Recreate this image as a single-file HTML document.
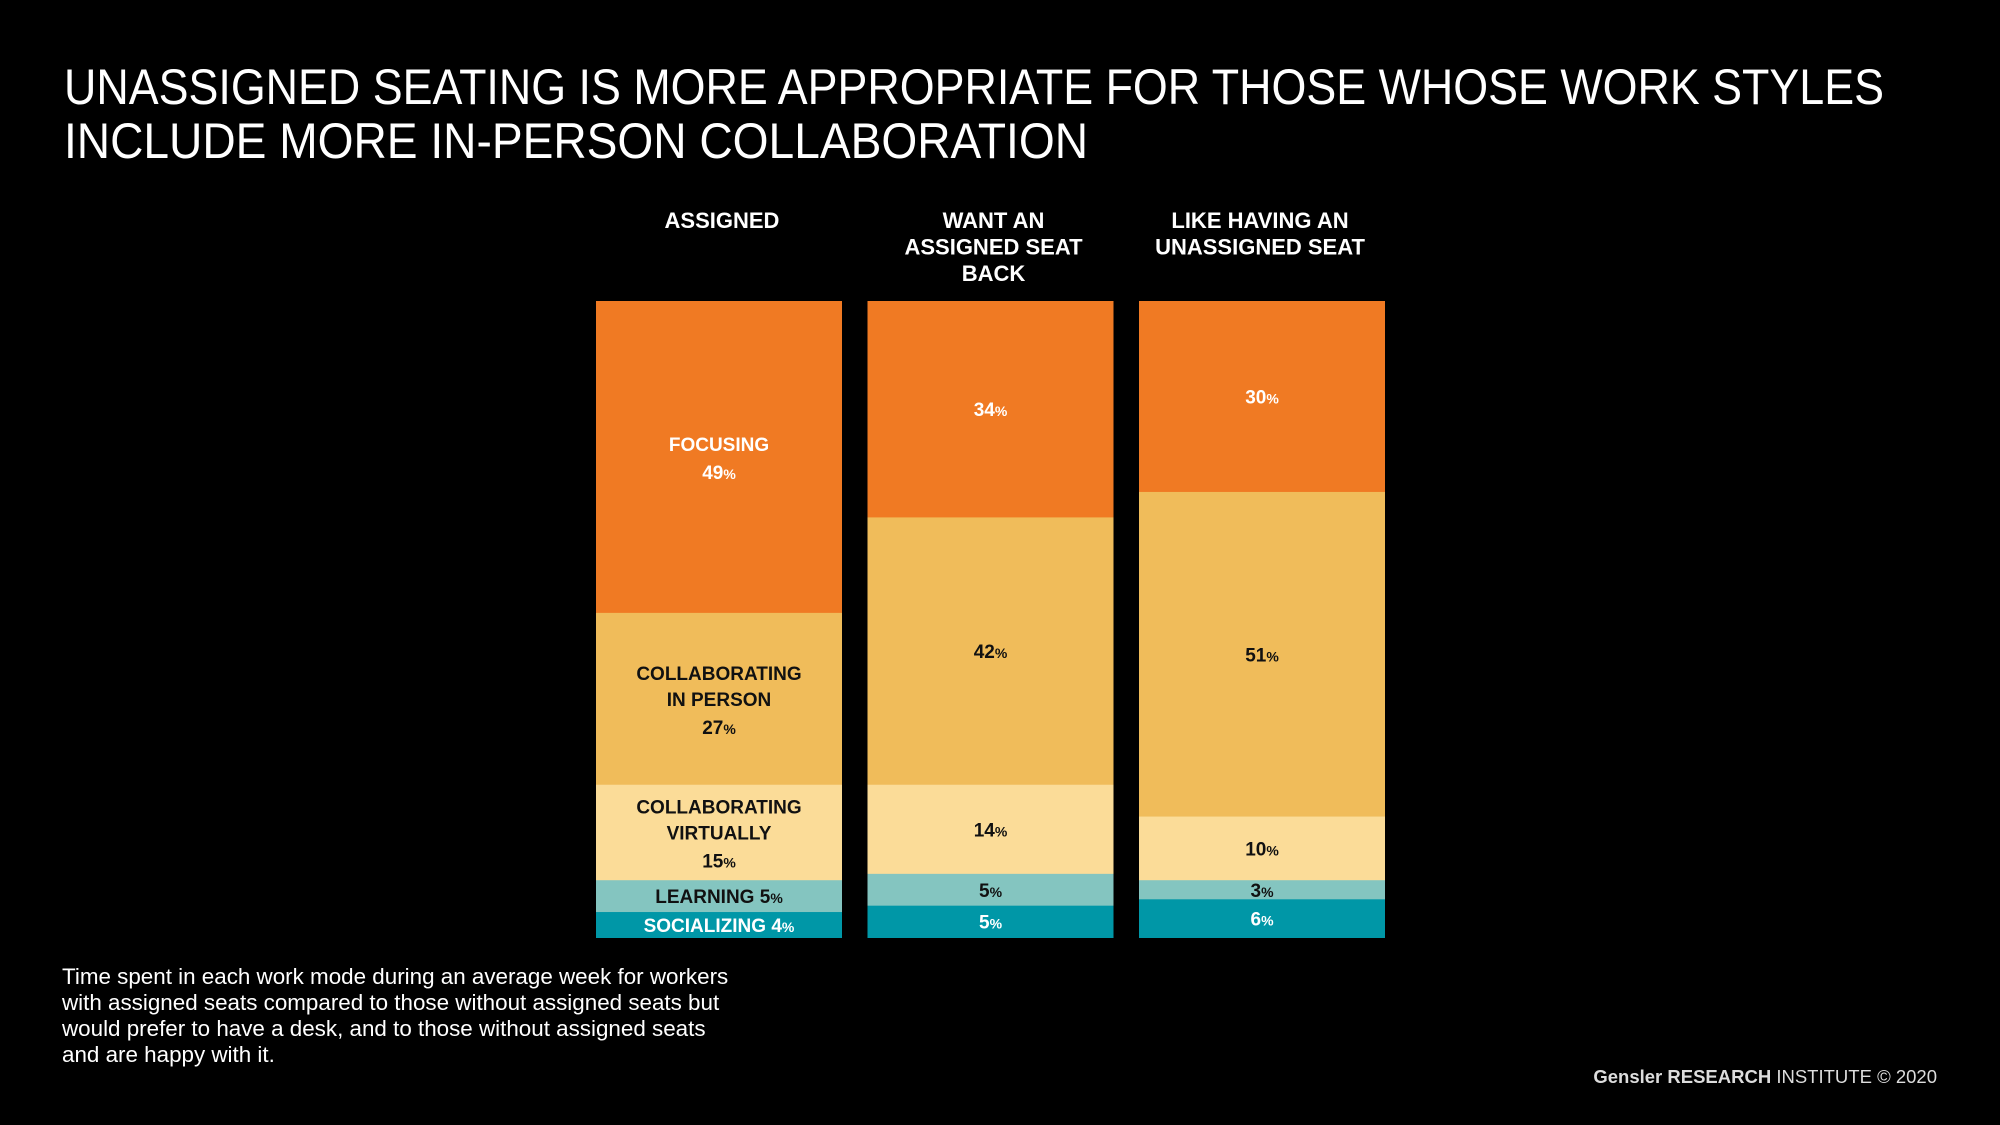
<!DOCTYPE html>
<html><head><meta charset="utf-8"><style>
html,body{margin:0;padding:0;background:#000;}
svg{display:block;font-family:"Liberation Sans",sans-serif;}
</style></head><body>
<svg id="chart" width="2000" height="1125" viewBox="0 0 2000 1125">
<rect width="2000" height="1125" fill="#000"/>
<g fill="#fff" font-size="50">
<text x="64" y="104" textLength="1820" lengthAdjust="spacingAndGlyphs">UNASSIGNED SEATING IS MORE APPROPRIATE FOR THOSE WHOSE WORK STYLES</text>
<text x="64" y="158" textLength="1024" lengthAdjust="spacingAndGlyphs">INCLUDE MORE IN-PERSON COLLABORATION</text>
</g>
<g id="headers"></g>
<g id="bars"></g>
<g fill="#fff" font-size="22.4">
<text x="62" y="984">Time spent in each work mode during an average week for workers</text>
<text x="62" y="1010">with assigned seats compared to those without assigned seats but</text>
<text x="62" y="1036">would prefer to have a desk, and to those without assigned seats</text>
<text x="62" y="1062">and are happy with it.</text>
</g>
<text x="1937" y="1083" text-anchor="end" fill="#ddd" font-size="18.5"><tspan font-weight="bold">Gensler RESEARCH</tspan> INSTITUTE © 2020</text>
</svg>
<script>
const categories = ["ASSIGNED", "WANT AN ASSIGNED SEAT BACK", "LIKE HAVING AN UNASSIGNED SEAT"];
const headerLines = [["ASSIGNED"], ["WANT AN", "ASSIGNED SEAT", "BACK"], ["LIKE HAVING AN", "UNASSIGNED SEAT"]];
const modes = ["FOCUSING", "COLLABORATING IN PERSON", "COLLABORATING VIRTUALLY", "LEARNING", "SOCIALIZING"];
const focusing = [49, 34, 30];
const collabInPerson = [27, 42, 51];
const collabVirtual = [15, 14, 10];
const learning = [5, 5, 3];
const socializing = [4, 5, 6];
const series = [focusing, collabInPerson, collabVirtual, learning, socializing];
const colors = ["#F07A23", "#F0BC5A", "#FBDC98", "#84C5C0", "#0097A7"];
const textColors = ["#fff", "#111", "#111", "#111", "#fff"];
const bar1Labels = [["FOCUSING"], ["COLLABORATING", "IN PERSON"], ["COLLABORATING", "VIRTUALLY"], null, null];
const bar1Inline = [null, null, null, "LEARNING", "SOCIALIZING"];

const NS = "http://www.w3.org/2000/svg";
const top0 = 301, bottom0 = 937.5, barW = 246, x0 = 596, step = 271.5;
const yScale = v => v / 100 * (bottom0 - top0);
const xPos = i => x0 + i * step;

function mk(tag, attrs, parent) {
  const e = document.createElementNS(NS, tag);
  for (const k in attrs) e.setAttribute(k, attrs[k]);
  parent.appendChild(e);
  return e;
}
const headers = document.getElementById("headers");
headerLines.forEach((lines, i) => {
  const hx = xPos(i) + barW / 2 + (i === 2 ? -2 : 3);
  const t = mk("text", {x: hx, y: 228, "text-anchor": "middle", fill: "#fff", "font-size": 22, "font-weight": "bold"}, headers);
  
  
  lines.forEach((l, j) => { const s = mk("tspan", {x: hx, dy: j ? 26.5 : 0}, t); s.textContent = l; });
});

function pct(parent, v) {
  const a = mk("tspan", {}, parent); a.textContent = v;
  const b = mk("tspan", {"font-size": 14}, parent); b.textContent = "%";
}
const bars = document.getElementById("bars");
categories.forEach((c, i) => {
  let y = top0;
  series.forEach((s, k) => {
    const h = yScale(s[i]);
    const r = mk("rect", {x: xPos(i), y: y, width: barW, height: h + 0.5, fill: colors[k]}, bars);
    
    
    const cx = xPos(i) + barW / 2, cy = y + h / 2;
    if (i === 0 && bar1Labels[k]) {
      const lines = bar1Labels[k];
      const n = lines.length + 1;
      let ly = cy - (n - 1) * 13 + 7;
      lines.forEach(l => {
        const t = mk("text", {x: cx, y: ly, "text-anchor": "middle", fill: textColors[k], "font-size": 19, "font-weight": "bold"}, bars);
        
        
        t.textContent = l; ly += 26;
      });
      const t = mk("text", {x: cx, y: ly + 2, "text-anchor": "middle", fill: textColors[k], "font-size": 19, "font-weight": "bold"}, bars);
      
      
      pct(t, s[i]);
    } else if (i === 0) {
      const t = mk("text", {x: cx, y: cy + 7, "text-anchor": "middle", fill: textColors[k], "font-size": 19, "font-weight": "bold"}, bars);
      
      
      const a = mk("tspan", {}, t); a.textContent = bar1Inline[k] + "  ";
      pct(t, s[i]);
    } else {
      const t = mk("text", {x: cx, y: cy + 7, "text-anchor": "middle", fill: textColors[k], "font-size": 19, "font-weight": "bold"}, bars);
      
      
      pct(t, s[i]);
    }
    y += h;
  });
});
</script>
</body></html>
